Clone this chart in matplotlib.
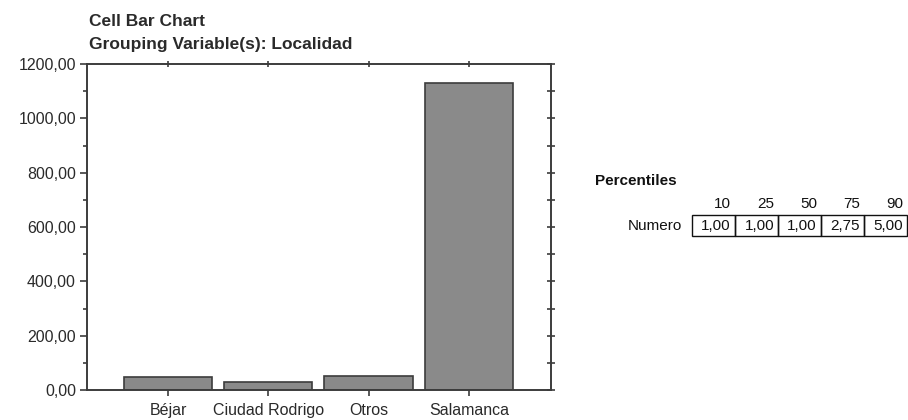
import matplotlib.pyplot as plt
from matplotlib.patches import Rectangle
from matplotlib.ticker import MultipleLocator

plt.rcParams['font.family'] = ['Liberation Sans', 'DejaVu Sans']

# Counts per locality
localidades = ["Béjar", "Ciudad Rodrigo", "Otros", "Salamanca"]
conteos = [48, 29, 52, 1130]

# Percentile table
percentiles = ["10", "25", "50", "75", "90"]
numero = [1.00, 1.00, 1.00, 2.75, 5.00]

line_col = "#3c3c3c"
text_col = "#2a2a2a"


def coma(v):
    return f"{v:.2f}".replace(".", ",")


fig = plt.figure(figsize=(9.08, 4.2), dpi=100)
ax = fig.add_axes([0.0958, 0.0714, 0.511, 0.7762])

x = list(range(len(localidades)))
ax.bar(x, conteos, width=0.88, color="#8a8a8a", edgecolor=line_col, linewidth=1.2, zorder=2)

ax.set_xlim(-0.81, len(localidades) - 1 + 0.82)
ax.set_ylim(0, 1200)

for s in ax.spines.values():
    s.set_color(line_col)
    s.set_linewidth(1.4)

ax.set_xticks(x)
ax.set_xticklabels(localidades, fontsize=11.5, color=text_col)
ax.yaxis.set_major_locator(MultipleLocator(200))
ax.yaxis.set_minor_locator(MultipleLocator(100))
ax.set_yticklabels([coma(v) for v in ax.get_yticks()], fontsize=11.5, color=text_col)

ax.tick_params(axis="y", which="major", direction="out", length=5, width=1.2,
               color=line_col, pad=3, right=True)
ax.tick_params(axis="y", which="minor", direction="out", length=3, width=1.2,
               color=line_col, right=True)
ax.tick_params(axis="x", which="major", direction="out", length=4, width=1.2,
               color=line_col, pad=5, top=True)

# right and top ticks cross the spine
for t in ax.yaxis.get_major_ticks() + ax.yaxis.get_minor_ticks():
    t.tick2line.set_marker("_")
    t.tick2line.set_markersize(6)
for t in ax.xaxis.get_major_ticks():
    t.tick2line.set_marker("|")
    t.tick2line.set_markersize(5)

fig.text(89 / 908, 1 - 22 / 420, "Cell Bar Chart", fontsize=12.5, fontweight="bold",
         color=text_col, va="center", ha="left")
fig.text(89 / 908, 1 - 45 / 420, "Grouping Variable(s): Localidad", fontsize=12.5,
         fontweight="bold", color=text_col, va="center", ha="left")

# percentile table drawn in pixel coordinates
tab = fig.add_axes([0, 0, 1, 1])
tab.set_xlim(0, 908)
tab.set_ylim(420, 0)
tab.axis("off")

tab.text(595, 181, "Percentiles", fontsize=11, fontweight="bold", color="#111111",
         va="center", ha="left")
cell_w = 43
x0 = 692
top, bot = 215, 236
tab.text(x0 - 10, (top + bot) / 2, "Numero", fontsize=11, color="#111111",
         va="center", ha="right")
for i, (p, v) in enumerate(zip(percentiles, numero)):
    cx = x0 + i * cell_w
    tab.add_patch(Rectangle((cx, top), cell_w, bot - top, fill=False,
                            edgecolor="#111111", linewidth=1))
    tab.text(cx + cell_w - 4, 204, p, fontsize=11, color="#111111", va="center", ha="right")
    tab.text(cx + cell_w - 4, (top + bot) / 2, coma(v), fontsize=11, color="#111111",
             va="center", ha="right")

fig.savefig("out.png", dpi=100)
